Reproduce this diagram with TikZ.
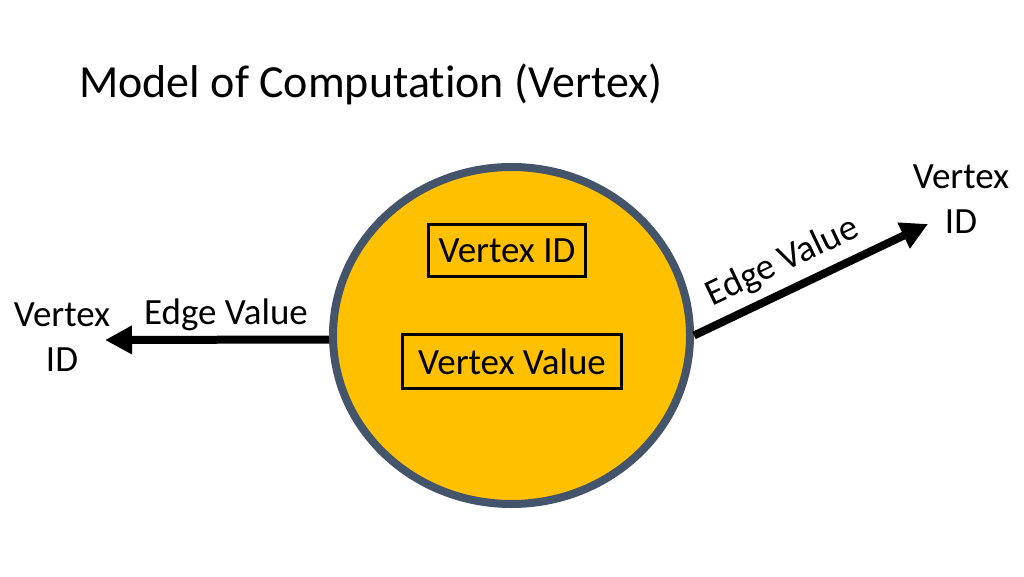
\documentclass[tikz,border=0pt]{standalone}
\usepackage{fontspec}
\setmainfont{Carlito}[Ligatures=NoCommon]
\usetikzlibrary{arrows.meta,positioning,shapes.geometric}

\definecolor{vertexgold}{HTML}{FFC000}
\definecolor{vertexrim}{HTML}{44546A}

\tikzset{
  vertexbody/.style={ellipse, draw=vertexrim, fill=vertexgold, line width=8pt,
    minimum width=357pt, minimum height=337pt, inner sep=0pt},
  fieldbox/.style={draw=black, line width=3pt, inner sep=0pt,
    font=\fontsize{37}{44}\selectfont},
  idlabel/.style={align=center, inner sep=0pt, font=\fontsize{37}{45}\selectfont},
  edgearrow/.style={line width=8pt, -{Triangle[length=27pt,width=27pt]}},
  edgelabel/.style={font=\fontsize{37}{44}\selectfont, inner sep=2pt}
}

\begin{document}
\begin{tikzpicture}[x=1pt,y=1pt]
	\useasboundingbox (0,0) rectangle (1024,576);
	% Title
	\node[anchor=base west, inner sep=0pt, font=\fontsize{46}{55}\selectfont]
		(title) at (79,478) {Model of Computation (Vertex)};
	% The vertex and its fields
	\node[vertexbody] (vertex) at (511.5,240.5) {};
	\node[fieldbox, minimum width=157pt, minimum height=52pt] (vid) at (507,325.5) {Vertex ID};
	\node[fieldbox, minimum width=219pt, minimum height=54pt] (vval) at (512,214.5) {Vertex Value};
	% Neighbouring vertices
	\node[idlabel] (leftid) at (62,239) {Vertex\\ID};
	\node[idlabel] (rightid) at (961,377) {Vertex\\ID};
	\coordinate (lefttip) at (105,236);
	\coordinate (righttip) at (928,352);
	% Outgoing edges
	\draw[edgearrow] ([yshift=-4pt]vertex.west) -- node[edgelabel, above=3pt, pos=0.46] (leftval) {Edge Value} (lefttip);
	\draw[edgearrow] (vertex.east) -- node[edgelabel, above=6pt, sloped, pos=0.43] (rightval) {Edge Value} (righttip);
\end{tikzpicture}
\end{document}
